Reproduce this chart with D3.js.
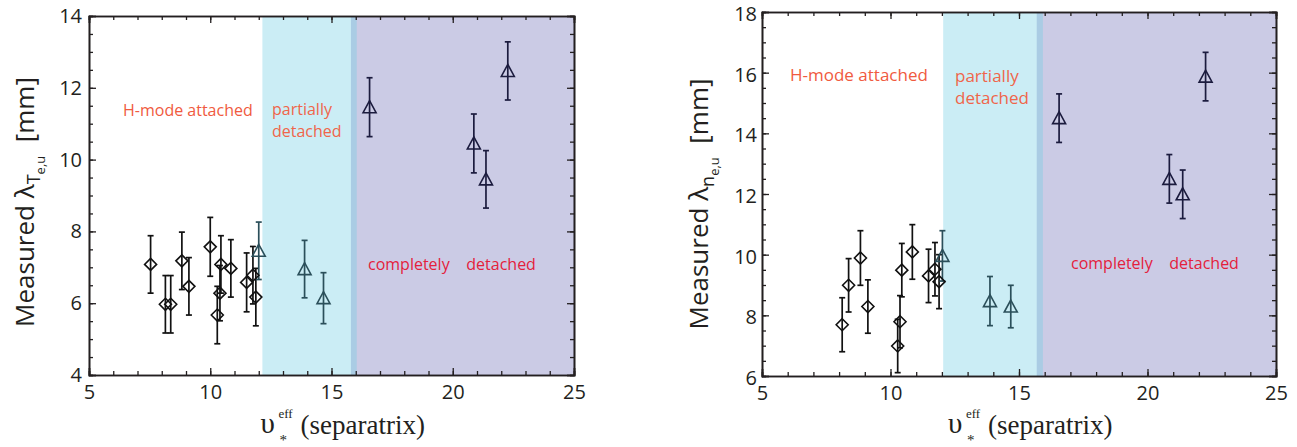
<!DOCTYPE html>
<html>
<head>
<meta charset="utf-8">
<script src="https://cdn.jsdelivr.net/npm/d3@7"></script>
<style>
  html, body { margin: 0; padding: 0; background: #fff; }
  svg { display: block; }
  text { font-family: "Open Sans", "Noto Sans", sans-serif; }
</style>
</head>
<body>
<svg id="chart" width="1297" height="447"></svg>
<script>
// ---------- data ----------
const xTicks = [5, 10, 15, 20, 25];
const leftYTicks = [4, 6, 8, 10, 12, 14];
const rightYTicks = [6, 8, 10, 12, 14, 16, 18];

// Left panel: lambda_Te,u
const leftDiaX   = [7.54, 8.15, 8.37, 8.83, 9.12, 10.00, 10.44, 10.40, 10.29, 10.85, 11.50, 11.76, 11.88];
const leftDiaY   = [7.08, 5.97, 5.97, 7.18, 6.47, 7.57, 7.08, 6.28, 5.67, 6.97, 6.58, 6.78, 6.17];
const leftDiaErr = [0.80, 0.80, 0.80, 0.80, 0.80, 0.82, 0.80, 0.77, 0.80, 0.80, 0.82, 0.80, 0.80];
const leftPartX   = [12.00, 13.89, 14.67];
const leftPartY   = [7.46, 6.95, 6.14];
const leftPartErr = [0.80, 0.80, 0.71];
const leftCompX   = [16.57, 20.87, 21.37, 22.27];
const leftCompY   = [11.46, 10.45, 9.45, 12.47];
const leftCompErr = [0.82, 0.82, 0.80, 0.81];
const leftPartialRange  = [12.15, 16.04];
const leftCompleteRange = [15.80, 25];

// Right panel: lambda_ne,u
const rightDiaX   = [8.12, 8.37, 8.83, 9.12, 10.28, 10.37, 10.44, 10.85, 11.48, 11.73, 11.89];
const rightDiaY   = [7.69, 8.99, 9.89, 8.29, 6.99, 7.79, 9.49, 10.09, 9.30, 9.52, 9.11];
const rightDiaErr = [0.89, 0.88, 0.90, 0.88, 0.88, 0.86, 0.88, 0.90, 0.88, 0.88, 0.89];
const rightPartX   = [12.02, 13.87, 14.68];
const rightPartY   = [9.96, 8.47, 8.29];
const rightPartErr = [0.83, 0.81, 0.70];
const rightCompX   = [16.56, 20.85, 21.37, 22.26];
const rightCompY   = [14.50, 12.50, 11.99, 15.87];
const rightCompErr = [0.80, 0.80, 0.80, 0.80];
const rightPartialRange  = [12.05, 15.93];
const rightCompleteRange = [15.69, 25];

// ---------- drawing ----------
const svg = d3.select("#chart");

const zip = (xs, ys, es) => xs.map((x, i) => ({x, y: ys[i], e: es[i]}));

function panel(cfg) {
  const g = svg.append("g");
  const x = d3.scaleLinear().domain([5, 25]).range([cfg.x0, cfg.x1]);
  const y = d3.scaleLinear().domain(cfg.yDomain).range([cfg.y1, cfg.y0]);

  // shaded regimes
  g.append("rect")
    .attr("x", x(cfg.complete[0])).attr("width", x(cfg.complete[1]) - x(cfg.complete[0]))
    .attr("y", cfg.y0).attr("height", cfg.y1 - cfg.y0)
    .attr("fill", "#cbcbe5");
  g.append("rect")
    .attr("x", x(cfg.partial[0])).attr("width", x(cfg.partial[1]) - x(cfg.partial[0]))
    .attr("y", cfg.y0).attr("height", cfg.y1 - cfg.y0)
    .attr("fill", "rgb(111,205,228)").attr("fill-opacity", 0.36);

  // axes
  const minorX = d3.range(5, 25.001, 1);
  const minorY = d3.range(cfg.yDomain[0], cfg.yDomain[1] + 0.001, 0.5);
  const axStyle = sel => {
    sel.selectAll(".domain").attr("stroke", "#231f20").attr("stroke-width", 1.6);
    sel.selectAll(".tick line").attr("stroke", "#231f20").attr("stroke-width", 1.3);
    sel.selectAll("text").attr("font-size", 20).attr("fill", "#231f20")
      .style("font-family", '"Open Sans", sans-serif');
  };
  // bottom
  g.append("g").attr("transform", `translate(0,${cfg.y1})`)
    .call(d3.axisBottom(x).tickValues(minorX).tickSize(-4).tickFormat("")).call(axStyle);
  g.append("g").attr("transform", `translate(0,${cfg.y1})`)
    .call(d3.axisBottom(x).tickValues(xTicks).tickSize(-7).tickPadding(10).tickFormat(d3.format("d"))).call(axStyle);
  // top
  g.append("g").attr("transform", `translate(0,${cfg.y0})`)
    .call(d3.axisTop(x).tickValues(minorX).tickSize(-4).tickFormat("")).call(axStyle);
  g.append("g").attr("transform", `translate(0,${cfg.y0})`)
    .call(d3.axisTop(x).tickValues(xTicks).tickSize(-7).tickFormat("")).call(axStyle);
  // left
  g.append("g").attr("transform", `translate(${cfg.x0},0)`)
    .call(d3.axisLeft(y).tickValues(minorY).tickSize(-4).tickFormat("")).call(axStyle);
  g.append("g").attr("transform", `translate(${cfg.x0},0)`)
    .call(d3.axisLeft(y).tickValues(cfg.yTicks).tickSize(-7).tickPadding(cfg.yPad).tickFormat(d3.format("d"))).call(axStyle)
    .selectAll(".tick text").attr("dy", cfg.yLabDy);
  // right
  g.append("g").attr("transform", `translate(${cfg.x1},0)`)
    .call(d3.axisRight(y).tickValues(minorY).tickSize(-4).tickFormat("")).call(axStyle);
  g.append("g").attr("transform", `translate(${cfg.x1},0)`)
    .call(d3.axisRight(y).tickValues(cfg.yTicks).tickSize(-7).tickFormat("")).call(axStyle);

  // error bars + markers
  function errBars(data, color) {
    const eg = g.append("g").attr("stroke", color).attr("stroke-width", 1.7).attr("fill", "none");
    eg.selectAll("line.v").data(data).join("line")
      .attr("x1", d => x(d.x)).attr("x2", d => x(d.x))
      .attr("y1", d => y(d.y + d.e)).attr("y2", d => y(d.y - d.e));
    eg.selectAll("line.t").data(data).join("line")
      .attr("x1", d => x(d.x) - 3).attr("x2", d => x(d.x) + 3)
      .attr("y1", d => y(d.y + d.e)).attr("y2", d => y(d.y + d.e));
    eg.selectAll("line.b").data(data).join("line")
      .attr("x1", d => x(d.x) - 3).attr("x2", d => x(d.x) + 3)
      .attr("y1", d => y(d.y - d.e)).attr("y2", d => y(d.y - d.e));
  }
  const dia = zip(cfg.diaX, cfg.diaY, cfg.diaErr);
  const part = zip(cfg.partX, cfg.partY, cfg.partErr);
  const comp = zip(cfg.compX, cfg.compY, cfg.compErr);
  errBars(dia, "#111");
  errBars(part, "#2b4f5a");
  errBars(comp, "#1b1b3e");

  g.append("g").selectAll("path").data(dia).join("path")
    .attr("d", d => `M${x(d.x)},${y(d.y) - 6}L${x(d.x) + 6},${y(d.y)}L${x(d.x)},${y(d.y) + 6}L${x(d.x) - 6},${y(d.y)}Z`)
    .attr("fill", "none").attr("stroke", "#111").attr("stroke-width", 1.6);
  const tri = d => `M${x(d.x)},${y(d.y) - 6.5}L${x(d.x) + 6.5},${y(d.y) + 5.5}L${x(d.x) - 6.5},${y(d.y) + 5.5}Z`;
  g.append("g").selectAll("path").data(part).join("path")
    .attr("d", tri).attr("fill", "none").attr("stroke", "#2b4f5a").attr("stroke-width", 1.6);
  g.append("g").selectAll("path").data(comp).join("path")
    .attr("d", tri).attr("fill", "none").attr("stroke", "#1b1b3e").attr("stroke-width", 1.6);

  // regime labels
  const lab = (tx, ty, str, color) => g.append("text").attr("x", tx).attr("y", ty)
    .attr("font-size", cfg.labFs).attr("fill", color).text(str);
  lab(cfg.hX, cfg.hY, "H-mode attached", "#f05a40");
  lab(cfg.pX, cfg.pY, "partially", "#f0654a");
  lab(cfg.pX, cfg.pY + 22, "detached", "#f0654a");
  g.append("text").attr("x", cfg.cX).attr("y", cfg.cY).attr("font-size", 16)
    .attr("fill", "#e4213c").style("white-space", "pre")
    .text("completely    detached");

  // y-axis title
  const yt = g.append("text")
    .attr("transform", `translate(${cfg.ytX},${cfg.ytY}) rotate(-90)`)
    .attr("text-anchor", "middle").attr("font-size", 26).attr("fill", "#231f20")
    .style("white-space", "pre");
  yt.append("tspan").text("Measured \u03bb");
  yt.append("tspan").attr("dy", 6).attr("font-size", 18).text(cfg.sub1);
  yt.append("tspan").attr("dy", 5).attr("font-size", 13).text("e,u");
  yt.append("tspan").attr("dy", -11).attr("font-size", 26).text("\u00a0\u00a0[mm]");

  // x-axis title
  const cx = (cfg.x0 + cfg.x1) / 2;
  const serif = '"Liberation Serif", "DejaVu Serif", serif';
  g.append("text").attr("x", cx - 71).attr("y", 433).attr("font-size", 29)
    .style("font-family", serif).attr("fill", "#231f20").text("\u03c5");
  g.append("text").attr("x", cx - 53).attr("y", 418).attr("font-size", 13)
    .style("font-family", serif).attr("fill", "#231f20").text("eff");
  g.append("text").attr("x", cx - 52).attr("y", 445).attr("font-size", 15)
    .style("font-family", serif).attr("fill", "#231f20").text("*");
  g.append("text").attr("x", cx - 31).attr("y", 434).attr("font-size", 27)
    .style("font-family", serif).attr("fill", "#231f20").text("(separatrix)");
}

panel({
  x0: 89, x1: 574, y0: 16, y1: 375, yDomain: [4, 14], yTicks: leftYTicks, yPad: 7, yLabDy: "0.32em",
  diaX: leftDiaX, diaY: leftDiaY, diaErr: leftDiaErr,
  partX: leftPartX, partY: leftPartY, partErr: leftPartErr,
  compX: leftCompX, compY: leftCompY, compErr: leftCompErr,
  partial: leftPartialRange, complete: leftCompleteRange,
  labFs: 16, hX: 123, hY: 116, pX: 272, pY: 115, cX: 368, cY: 270,
  ytX: 34, ytY: 202, sub1: "T"
});
panel({
  x0: 762, x1: 1276, y0: 12, y1: 376, yDomain: [6, 18], yTicks: rightYTicks, yPad: 5, yLabDy: "0.42em",
  diaX: rightDiaX, diaY: rightDiaY, diaErr: rightDiaErr,
  partX: rightPartX, partY: rightPartY, partErr: rightPartErr,
  compX: rightCompX, compY: rightCompY, compErr: rightCompErr,
  partial: rightPartialRange, complete: rightCompleteRange,
  labFs: 17, hX: 790, hY: 81, pX: 955, pY: 82, cX: 1071, cY: 269,
  ytX: 708, ytY: 204, sub1: "n"
});
</script>
</body>
</html>
